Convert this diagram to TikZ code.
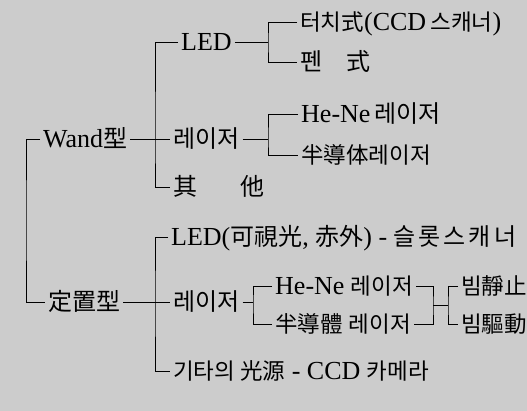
\documentclass[tikz,border=0pt]{standalone}
\usepackage{fontspec}
\setmainfont{Liberation Serif}
\newfontfamily\krfam{Noto Sans CJK KR}
\newcommand{\krt}[1]{{\krfam\fontsize{24}{28}\selectfont #1}}
\newcommand{\krs}[1]{{\krfam\fontsize{22.5}{26}\selectfont #1}}
\begin{document}
\begin{tikzpicture}[x=1pt,y=-1pt,
  lab/.style={anchor=west, inner xsep=3pt, inner ysep=0pt, text height=20pt, text depth=4pt, font=\fontsize{26}{30}\selectfont},
  conn/.style={line width=1pt}]
\fill[black!20] (0,0) rectangle (527,411);
\useasboundingbox (0,0) rectangle (527,411);

\node[lab] (wand) at (40,140) {Wand\krt{型}};
\node[lab] (fixed) at (45,303) {\krt{定置型}};
\node[lab] (led1) at (178,43) {LED};
\node[lab] (laser1) at (170,140) {\krt{레이저}};
\node[lab] (other1) at (170,188) {\krt{其\hspace{1.8em}他}};
\node[lab] (touch) at (297,23) {\krs{터치式}(CCD\,\krs{스캐너})};
\node[lab] (pen) at (297,63) {\krt{펜\hspace{1em}式}};
\node[lab] (hene1) at (298,115) {He-Ne\,\krt{레이저}};
\node[lab] (semi1) at (298,156) {\krs{半導体레이저}};
\node[lab] (led2) at (168,238) {LED(\krt{可視光}, \krt{赤外}) - \krt{슬\kern3pt 롯\kern3pt 스\kern3pt 캐\kern3pt 너}};
\node[lab] (laser2) at (170,303) {\krt{레이저}};
\node[lab] (hene2) at (272,287) {He-Ne \krs{레이저}};
\node[lab] (semi2) at (272,325) {\krs{半導體}\hspace{6pt}\krs{레이저}};
\node[lab] (still) at (458,287) {\krs{빔靜止}};
\node[lab] (drive) at (458,325) {\krs{빔驅動}};
\node[lab] (other2) at (170,371) {\krs{기타의 光源} - CCD \krs{카메라}};

\coordinate (j0) at (26,220);
\coordinate (j1) at (155,140);
\coordinate (j2) at (155,303);
\coordinate (s1) at (268,43);
\coordinate (s2) at (268,140);
\coordinate (s3) at (253,303);
\coordinate (h1) at (433,306);
\coordinate (h2) at (448,306);

\draw[conn] (wand.west) -| (j0) |- (fixed.west);
\draw[conn] (wand.east) -- (laser1.west);
\draw[conn] (led1.west) -| (j1) |- (other1.west);
\draw[conn] (led1.east) -- (s1);
\draw[conn] (touch.west) -| (s1) |- (pen.west);
\draw[conn] (laser1.east) -- (s2);
\draw[conn] (hene1.west) -| (s2) |- (semi1.west);
\draw[conn] (fixed.east) -- (laser2.west);
\draw[conn] (led2.west) -| (j2) |- (other2.west);
\draw[conn] (laser2.east) -- (s3);
\draw[conn] (hene2.west) -| (s3) |- (semi2.west);
\draw[conn] (hene2.east) -| (h1) |- (semi2.east);
\draw[conn] (h1) -- (h2);
\draw[conn] (still.west) -| (h2) |- (drive.west);
\end{tikzpicture}
\end{document}
